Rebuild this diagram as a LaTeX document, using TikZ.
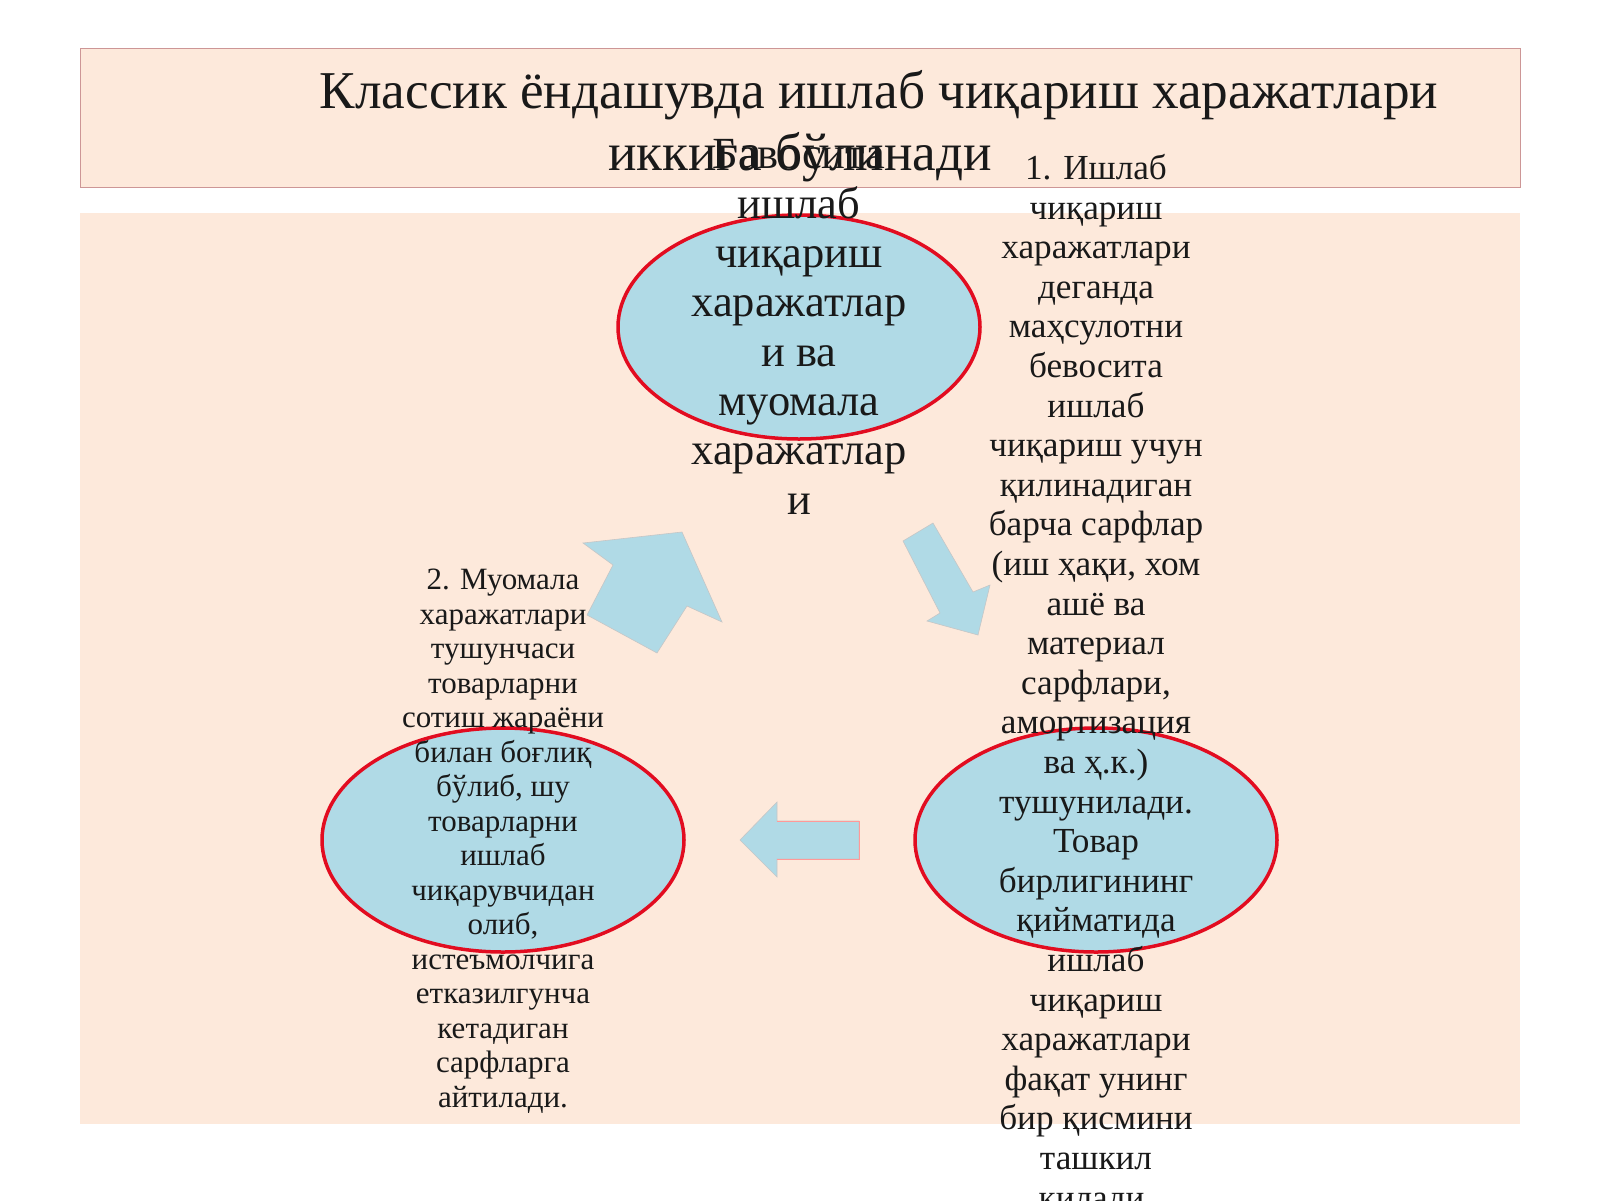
\documentclass[tikz,border=0pt]{standalone}
\usepackage{fontspec}
\setmainfont{Liberation Serif}
\usetikzlibrary{shapes.geometric}
\definecolor{peach}{RGB}{253,233,219}
\definecolor{cellblue}{RGB}{176,218,230}
\definecolor{ringred}{RGB}{226,12,32}
\definecolor{boxline}{RGB}{205,150,150}

\begin{document}
\begin{tikzpicture}[x=1pt,y=-1pt]
		\tikzstyle{cell}=[draw=ringred,fill=cellblue,line width=3.5pt,shape=ellipse,minimum width=362pt,minimum height=224pt,inner sep=0pt]
		\tikzstyle{txt}=[align=center,inner sep=0pt,anchor=base,text=black!90]
		\tikzstyle{block}=[fill=cellblue,draw=gray!45,line width=0.6pt]

		\useasboundingbox (0,0) rectangle (1600,1200);
		\fill[white] (0,0) rectangle (1600,1200);

		% title box and panel
		\draw[fill=peach,draw=boxline,line width=0.8pt] (80,48) rectangle (1520,187);
		\fill[peach] (80,213) rectangle (1520,1124);

		\node[txt,font=\fontsize{53.2}{62}\selectfont](title1) at (879,108){Классик ёндашувда ишлаб чиқариш харажатлари};
		\node[txt,font=\fontsize{53.2}{62}\selectfont](title2) at (800,170){иккига бўлинади};

		% cycle
		\node[cell](top) at (799,327){};
		\node[cell](left) at (503,840){};
		\node[cell](right) at (1096,840){};

		\fill[block] (587,615) -- (613,565) -- (583,543) -- (682,532) -- (722,622) -- (687,606) -- (657,653) -- cycle;
		\fill[block] (903,541) -- (933,523) -- (973,592) -- (990,585) -- (978,635) -- (927,621) -- (940,613) -- cycle;
		\fill[block] (740,840) -- (777,802) -- (777,821) -- (859,821) -- (859,859) -- (777,859) -- (777,877) -- cycle;
		\draw[red!40,line width=0.8pt] (777,821) -- (859,821) -- (859,859) -- (777,859);

		% base of a multi-line node is its last line
		\node[txt,font=\fontsize{44.5}{49.3}\selectfont](toptext) at (799,514){Бавосита\\ишлаб\\чиқариш\\харажатлар\\и ва\\муомала\\харажатлар\\и};

		\node[txt,font=\fontsize{35.2}{39.6}\selectfont](righttext) at (1096,1209){1. Ишлаб\\чиқариш\\харажатлари\\деганда\\маҳсулотни\\бевосита\\ишлаб\\чиқариш учун\\қилинадиган\\барча сарфлар\\(иш ҳақи, хом\\ашё ва\\материал\\сарфлари,\\амортизация\\ва ҳ.к.)\\тушунилади.\\Товар\\бирлигининг\\қийматида\\ишлаб\\чиқариш\\харажатлари\\фақат унинг\\бир қисмини\\ташкил\\қилади.};

		\node[txt,font=\fontsize{31}{34.5}\selectfont](lefttext) at (503,1107){2. Муомала\\харажатлари\\тушунчаси\\товарларни\\сотиш жараёни\\билан боғлиқ\\бўлиб, шу\\товарларни\\ишлаб\\чиқарувчидан\\олиб,\\истеъмолчига\\етказилгунча\\кетадиган\\сарфларга\\айтилади.};
	\end{tikzpicture}
\end{document}
